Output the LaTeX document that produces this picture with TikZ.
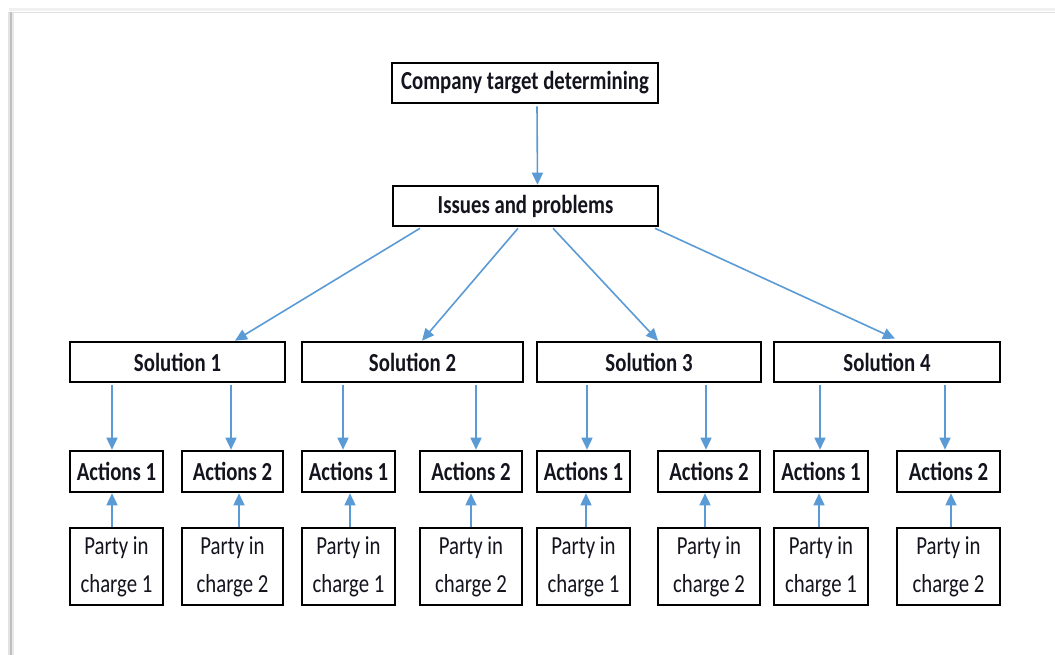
\documentclass[tikz,border=0pt]{standalone}
\usepackage{fontspec}
\setmainfont[FakeStretch=0.8]{Carlito}
\usetikzlibrary{arrows.meta,calc}
\definecolor{arrowblue}{RGB}{91,155,213}
\definecolor{inkdark}{RGB}{20,20,30}
\begin{document}
\begin{tikzpicture}[x=1pt,y=-1pt,
  tbox/.style={draw=black,line width=2.6pt,fill=white,inner sep=0pt,text=inkdark,
    minimum height=40pt,font=\fontsize{26}{30}\selectfont\bfseries},
  pbox/.style={draw=black,line width=2.6pt,fill=white,inner sep=0pt,text=inkdark,
    minimum height=77pt,align=center,font=\fontsize{26}{38}\selectfont},
  arr/.style={draw=arrowblue,line width=1.6pt,-{Triangle[length=12pt,width=11pt]}}
]
\useasboundingbox (0,0) rectangle (1055,655);
\fill[white] (0,0) rectangle (1055,655);

% page edge with a soft shadow on the top and left sides
\draw[gray!12,line width=3pt] (9,10) -- (1055,10);
\draw[gray!25,line width=1pt] (10,12.5) -- (1055,12.5);
\draw[gray!22,line width=2pt] (9,12) -- (9,655);
\draw[gray!50,line width=2pt] (11.2,12) -- (11.2,655);
\draw[gray!18,line width=1.2pt] (13,13) -- (13,655);

% top levels
\node[tbox,minimum width=266pt] (top) at (525,83) {Company target determining};
\node[tbox,minimum width=265pt] (iss) at (525.5,206) {Issues and problems};

% solutions
\node[tbox,minimum width=215pt] (s1) at (177.5,362) {Solution 1};
\node[tbox,minimum width=221pt] (s2) at (412.5,362) {Solution 2};
\node[tbox,minimum width=224pt] (s3) at (649,362) {Solution 3};
\node[tbox,minimum width=226pt] (s4) at (887,362) {Solution 4};

% actions
\node[tbox,minimum width=93pt,minimum height=41pt]  (a11) at (116.5,471.5) {Actions 1};
\node[tbox,minimum width=101pt,minimum height=41pt] (a12) at (232.5,471.5) {Actions 2};
\node[tbox,minimum width=93pt,minimum height=41pt]  (a21) at (348.5,471.5) {Actions 1};
\node[tbox,minimum width=102pt,minimum height=41pt] (a22) at (471,471.5) {Actions 2};
\node[tbox,minimum width=93pt,minimum height=41pt]  (a31) at (583.5,471.5) {Actions 1};
\node[tbox,minimum width=102pt,minimum height=41pt] (a32) at (709,471.5) {Actions 2};
\node[tbox,minimum width=94pt,minimum height=41pt]  (a41) at (821,471.5) {Actions 1};
\node[tbox,minimum width=103pt,minimum height=41pt] (a42) at (948.5,471.5) {Actions 2};

% parties in charge
\node[pbox,minimum width=93pt]  (p11) at (116.5,566.5) {Party in\\charge 1};
\node[pbox,minimum width=101pt] (p12) at (232.5,566.5) {Party in\\charge 2};
\node[pbox,minimum width=93pt]  (p21) at (348.5,566.5) {Party in\\charge 1};
\node[pbox,minimum width=102pt] (p22) at (471,566.5) {Party in\\charge 2};
\node[pbox,minimum width=93pt]  (p31) at (583.5,566.5) {Party in\\charge 1};
\node[pbox,minimum width=102pt] (p32) at (709,566.5) {Party in\\charge 2};
\node[pbox,minimum width=94pt]  (p41) at (821,566.5) {Party in\\charge 1};
\node[pbox,minimum width=103pt] (p42) at (948.5,566.5) {Party in\\charge 2};

% connectors
\draw[arr] ($(top.south)+(12,2)$) -- ($(iss.north)+(12,0)$);

\draw[arr] ($(iss.south)+(-105.5,1)$) -- ($(s1.north)+(57.5,0)$);
\draw[arr] ($(iss.south)+(-7.5,1)$)   -- ($(s2.north)+(9.5,0)$);
\draw[arr] ($(iss.south)+(27.5,1)$)   -- ($(s3.north)+(9,0)$);
\draw[arr] ($(iss.south)+(129.5,1)$)  -- ($(s4.north)+(8,-2)$);

\draw[arr] ($(s1.south)+(-65.5,2)$) -- ($(a11.north)+(-4.5,0)$);
\draw[arr] ($(s1.south)+(53.5,2)$)  -- ($(a12.north)+(-1.5,0)$);
\draw[arr] ($(s2.south)+(-69.5,2)$) -- ($(a21.north)+(-5.5,0)$);
\draw[arr] ($(s2.south)+(63.5,2)$)  -- ($(a22.north)+(5,0)$);
\draw[arr] ($(s3.south)+(-62,2)$)   -- ($(a31.north)+(3.5,0)$);
\draw[arr] ($(s3.south)+(57,2)$)    -- ($(a32.north)+(-3,0)$);
\draw[arr] ($(s4.south)+(-67,2)$)   -- ($(a41.north)+(-1,0)$);
\draw[arr] ($(s4.south)+(58,2)$)    -- ($(a42.north)+(-3.5,0)$);

\draw[arr] ($(p11.north)+(-4.5,0)$) -- ($(a11.south)+(-4.5,0)$);
\draw[arr] ($(p12.north)+(6.5,0)$)  -- ($(a12.south)+(6.5,0)$);
\draw[arr] ($(p21.north)+(1.5,0)$)  -- ($(a21.south)+(1.5,0)$);
\draw[arr] ($(p22.north)+(0,0)$)    -- ($(a22.south)+(0,0)$);
\draw[arr] ($(p31.north)+(2.5,0)$)  -- ($(a31.south)+(2.5,0)$);
\draw[arr] ($(p32.north)+(-4,0)$)   -- ($(a32.south)+(-4,0)$);
\draw[arr] ($(p41.north)+(-2,0)$)   -- ($(a41.south)+(-2,0)$);
\draw[arr] ($(p42.north)+(2.5,0)$)  -- ($(a42.south)+(2.5,0)$);
\end{tikzpicture}
\end{document}
